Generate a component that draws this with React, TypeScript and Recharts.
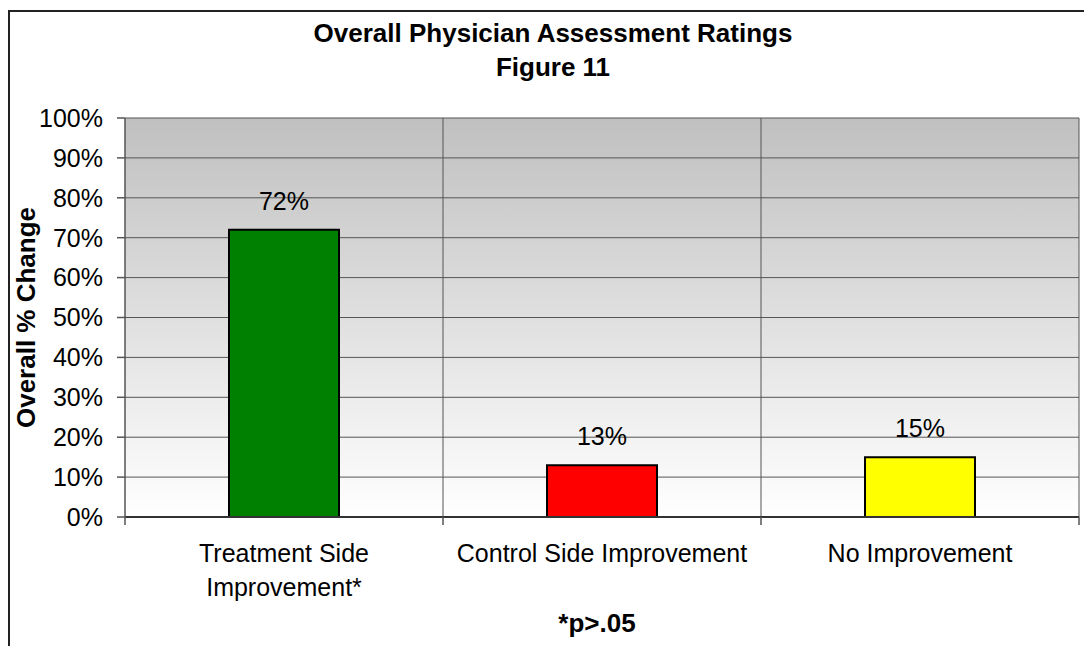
import React from "react";
import {
  Bar,
  BarChart,
  CartesianGrid,
  Cell,
  LabelList,
  XAxis,
  YAxis,
} from "recharts";

const categories = [
  "Treatment Side Improvement*",
  "Control Side Improvement",
  "No Improvement",
];
const values = [72, 13, 15];
const yTicks = [0, 10, 20, 30, 40, 50, 60, 70, 80, 90, 100];
const barColors = ["#008000", "#ff0000", "#ffff00"];

const W = 1084;
const H = 646;
const MARGIN = { top: 118, right: 5, left: 10, bottom: 0 };
const Y_AXIS_W = 115;
const PLOT_W = W - MARGIN.left - MARGIN.right - Y_AXIS_W;
const BAND = PLOT_W / categories.length;
const FONT = "'Liberation Sans', Arial, sans-serif";
const TICK_FONT = 25;

const data = categories.map((name, i) => ({ name, value: values[i] }));

// word wrap against the band width, measured with a canvas
let ctx: CanvasRenderingContext2D | null = null;
function wrap(label: string, maxW: number) {
  if (!ctx) ctx = document.createElement("canvas").getContext("2d");
  if (!ctx) return [label];
  ctx.font = `${TICK_FONT}px ${FONT}`;
  const lines: string[] = [];
  let cur = "";
  for (const w of label.split(" ")) {
    const next = cur ? `${cur} ${w}` : w;
    if (cur && ctx.measureText(next).width > maxW) {
      lines.push(cur);
      cur = w;
    } else cur = next;
  }
  if (cur) lines.push(cur);
  return lines;
}

function CategoryTick(props: any) {
  const { x, y, payload, index } = props;
  const half = BAND / 2;
  const lines = wrap(String(payload.value), BAND - 14);
  return (
    <g>
      <line x1={x + half} x2={x + half} y1={y} y2={y + 8} stroke="#555" strokeWidth={1.5} />
      {index === 0 && (
        <line x1={x - half} x2={x - half} y1={y} y2={y + 8} stroke="#555" strokeWidth={1.5} />
      )}
      <text x={x} y={y + 45} textAnchor="middle" fontSize={TICK_FONT} fontFamily={FONT} fill="#000">
        {lines.map((ln, i) => (
          <tspan key={i} x={x} dy={i === 0 ? 0 : 34}>
            {ln}
          </tspan>
        ))}
      </text>
    </g>
  );
}

export default function App() {
  return (
    <div style={{ position: "absolute", left: 0, top: 0, width: W, height: H, overflow: "hidden", background: "#fff" }}>
      <BarChart width={W} height={H} data={data} margin={MARGIN} style={{ fontFamily: FONT }}>
        <defs>
          <linearGradient id="plotBg" x1="0" y1="0" x2="0" y2="1">
            <stop offset="0%" stopColor="#c0c0c0" />
            <stop offset="100%" stopColor="#ffffff" />
          </linearGradient>
        </defs>
        <rect x={9} y={11} width={W} height={H} fill="none" stroke="#222" strokeWidth={2} />
        <text x={553} y={42} textAnchor="middle" fontSize={26} fontWeight="bold" fontFamily={FONT} fill="#000">
          Overall Physician Assessment Ratings
        </text>
        <text x={553} y={76} textAnchor="middle" fontSize={26} fontWeight="bold" fontFamily={FONT} fill="#000">
          Figure 11
        </text>
        <CartesianGrid
          fill="url(#plotBg)"
          fillOpacity={1}
          stroke="#555"
          strokeWidth={1}
          verticalCoordinatesGenerator={({ offset }: any) =>
            categories.map((_, i) => offset.left + ((i + 1) * offset.width) / categories.length)
          }
        />
        <XAxis
          dataKey="name"
          height={129}
          interval={0}
          tickSize={0}
          tickMargin={0}
          tickLine={false}
          axisLine={{ stroke: "#333", strokeWidth: 2 }}
          tick={<CategoryTick />}
          label={{
            value: "*p>.05",
            position: "insideBottom",
            offset: 14,
            dx: -5,
            fontSize: 26,
            fontWeight: "bold",
            fill: "#000",
          }}
        />
        <YAxis
          width={Y_AXIS_W}
          domain={[0, 100]}
          ticks={yTicks}
          interval={0}
          tickFormatter={(v: number) => `${v}%`}
          tickSize={8}
          tickMargin={14}
          tick={{ fontSize: 25, fill: "#000" }}
          tickLine={{ stroke: "#555", strokeWidth: 1.5 }}
          axisLine={{ stroke: "#555", strokeWidth: 1.5 }}
          label={{
            value: "Overall % Change",
            angle: -90,
            position: "insideLeft",
            offset: 16,
            fontSize: 26,
            fontWeight: "bold",
            fill: "#000",
            style: { textAnchor: "middle" },
          }}
        />
        <Bar dataKey="value" barSize={110} stroke="#000" strokeWidth={2} isAnimationActive={false}>
          {data.map((d, i) => (
            <Cell key={d.name} fill={barColors[i]} />
          ))}
          <LabelList
            dataKey="value"
            position="top"
            offset={20}
            formatter={(v: number) => `${v}%`}
            fontSize={25}
            fill="#000"
          />
        </Bar>
      </BarChart>
    </div>
  );
}
